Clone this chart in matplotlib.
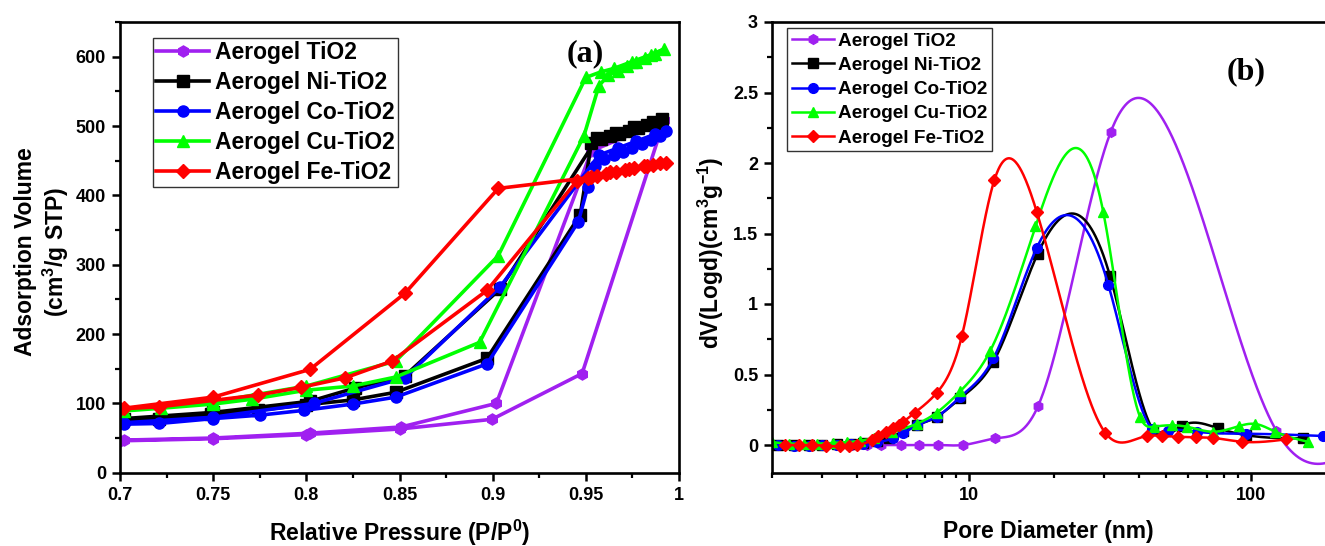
import numpy as np
import matplotlib
matplotlib.use("Agg")
import matplotlib.pyplot as plt
from matplotlib.ticker import MultipleLocator, LogLocator, FuncFormatter, NullFormatter

plt.rcParams['font.family'] = ['Liberation Sans', 'DejaVu Sans']
plt.rcParams['font.weight'] = 'bold'
plt.rcParams['mathtext.fontset'] = 'custom'
plt.rcParams['mathtext.rm'] = 'Liberation Sans:bold'
plt.rcParams['mathtext.it'] = 'Liberation Sans:bold'
plt.rcParams['mathtext.bf'] = 'Liberation Sans:bold'
plt.rcParams['mathtext.default'] = 'rm'

labels = ["Aerogel TiO2", "Aerogel Ni-TiO2", "Aerogel Co-TiO2", "Aerogel Cu-TiO2", "Aerogel Fe-TiO2"]
colors = ['#A020F0', '#000000', '#0000FF', '#00FF00', '#FF0000']
markers = ['h', 's', 'o', '^', 'D']

# ---------------- (a) isotherms ----------------
tio2_p = [0.700, 0.750, 0.800, 0.850, 0.8996, 0.948, 0.992, 0.953, 0.902, 0.851, 0.802, 0.750, 0.702]
tio2_v = [46, 49, 55, 63, 77, 143, 508, 464, 100, 66, 57, 50, 47]

ni_p = [0.700, 0.721, 0.749, 0.774, 0.800, 0.825, 0.848, 0.897, 0.947, 0.953, 0.958, 0.963, 0.968, 0.973,
        0.978, 0.983, 0.988, 0.991, 0.986, 0.976, 0.966, 0.956, 0.904, 0.853, 0.826, 0.802, 0.750, 0.702]
ni_v = [75, 77, 84, 90, 98, 105, 116, 165, 372, 476, 481, 485, 489, 493,
        497, 501, 505, 510, 506, 498, 490, 482, 265, 140, 122, 103, 87, 78]

co_p = [0.702, 0.721, 0.750, 0.775, 0.799, 0.825, 0.848, 0.897, 0.946, 0.951, 0.955, 0.960, 0.965, 0.970,
        0.975, 0.980, 0.985, 0.990, 0.993, 0.987, 0.977, 0.967, 0.957, 0.904, 0.853, 0.804, 0.750, 0.702]
co_v = [70, 71, 78, 83, 90, 99, 109, 157, 362, 412, 443, 452, 458, 463,
        468, 474, 480, 486, 493, 488, 478, 468, 458, 268, 137, 100, 80, 72]

cu_p = [0.702, 0.722, 0.750, 0.771, 0.800, 0.825, 0.848, 0.893, 0.949, 0.957, 0.962, 0.967, 0.972, 0.977,
        0.982, 0.987, 0.992, 0.985, 0.975, 0.965, 0.958, 0.950, 0.903, 0.848, 0.800, 0.750, 0.700]
cu_v = [89, 93, 99, 106, 119, 125, 138, 188, 486, 558, 573, 580, 586, 592,
        598, 604, 611, 603, 593, 583, 578, 570, 313, 161, 125, 102, 90]

fe_p = [0.700, 0.721, 0.774, 0.797, 0.821, 0.846, 0.897, 0.945, 0.951, 0.956, 0.961, 0.966, 0.971, 0.976,
        0.981, 0.986, 0.990, 0.993, 0.983, 0.973, 0.963, 0.953, 0.903, 0.853, 0.802, 0.750, 0.702]
fe_v = [92, 95, 112, 123, 137, 161, 263, 420, 425, 428, 431, 434, 437, 440,
        442, 444, 446, 447, 443, 438, 433, 426, 410, 259, 149, 109, 93]

# ---------------- (b) pore size distribution ----------------
tio2_d = [3.38, 3.83, 4.36, 4.89, 5.72, 6.62, 7.78, 9.52, 12.4, 17.6, 31.8, 123, 260]
tio2_dv = [0, 0, 0, 0, 0, 0, 0, 0, 0.047, 0.28, 2.22, 0.1, 0.04]

ni_d = [2.1, 2.4, 2.7, 3.0, 3.4, 3.8, 4.2, 4.7, 5.2, 5.85, 6.52, 7.68, 9.29, 12.2, 17.5, 31.6, 45.0, 56.7, 76.5, 96.0, 153]
ni_dv = [0.0, 0.0, 0.0, 0.0, 0.005, 0.01, 0.015, 0.03, 0.05, 0.1, 0.14, 0.2, 0.33, 0.59, 1.355, 1.2, 0.106, 0.135, 0.118, 0.07, 0.047]

co_d = [2.1, 2.4, 2.7, 3.0, 3.4, 3.8, 4.2, 4.7, 5.38, 5.85, 6.52, 7.68, 9.29, 12.2, 17.4, 31.2, 44.4, 50.6, 64.2, 96.0, 180]
co_dv = [0.0, -0.005, -0.005, 0.0, 0.0, 0.005, 0.01, 0.02, 0.047, 0.083, 0.14, 0.2, 0.34, 0.615, 1.40, 1.135, 0.117, 0.10, 0.094, 0.08, 0.064]

cu_d = [2.0, 2.3, 2.6, 2.9, 3.3, 3.7, 4.1, 4.6, 5.35, 6.52, 7.68, 9.29, 11.9, 17.2, 29.9, 40.4, 45.3, 52.3, 59.1, 73.5, 91.0, 103, 122, 159]
cu_dv = [0.02, 0.01, 0.01, 0.01, 0.015, 0.02, 0.03, 0.05, 0.09, 0.15, 0.23, 0.38, 0.67, 1.55, 1.655, 0.2, 0.13, 0.14, 0.13, 0.094, 0.135, 0.15, 0.094, 0.023]

fe_d = [2.23, 2.49, 2.77, 3.10, 3.49, 3.75, 4.0, 4.52, 4.77, 5.08, 5.38, 5.62, 5.85, 6.43, 7.68, 9.42, 12.3, 17.4, 30.4, 42.6, 48.5, 55.1, 63.7, 73.5, 92.7, 133]
fe_dv = [0.0, 0.0, 0.0, -0.005, -0.01, -0.005, 0.0, 0.035, 0.064, 0.094, 0.12, 0.14, 0.165, 0.23, 0.37, 0.77, 1.88, 1.65, 0.087, 0.064, 0.064, 0.058, 0.055, 0.05, 0.023, 0.04]


def natural_spline(x, y, xn):
    x = np.asarray(x, float); y = np.asarray(y, float)
    n = len(x)
    h = np.diff(x)
    A = np.zeros((n, n)); b = np.zeros(n)
    A[0, 0] = 1; A[-1, -1] = 1
    for i in range(1, n - 1):
        A[i, i - 1] = h[i - 1]
        A[i, i] = 2 * (h[i - 1] + h[i])
        A[i, i + 1] = h[i]
        b[i] = 3 * ((y[i + 1] - y[i]) / h[i] - (y[i] - y[i - 1]) / h[i - 1])
    c = np.linalg.solve(A, b)
    bb = (y[1:] - y[:-1]) / h - h * (2 * c[:-1] + c[1:]) / 3
    d = (c[1:] - c[:-1]) / (3 * h)
    idx = np.clip(np.searchsorted(x, xn) - 1, 0, n - 2)
    t = xn - x[idx]
    return y[idx] + bb[idx] * t + c[idx] * t ** 2 + d[idx] * t ** 3


W, H = 1325, 546
fig = plt.figure(figsize=(W / 100, H / 100), dpi=100)

# ---- left axes
axL = fig.add_axes([120 / W, (H - 472.7) / H, 559 / W, 450.7 / H])
iso = [(tio2_p, tio2_v), (ni_p, ni_v), (co_p, co_v), (cu_p, cu_v), (fe_p, fe_v)]
for (p, v), c, m, lab in zip(iso, colors, markers, labels):
    axL.plot(p, v, color=c, marker=m, lw=2.6, ms=8 if m != 'D' else 7, mec=c, mfc=c, label=lab)
axL.set_xlim(0.7, 1.0)
axL.set_ylim(0, 650)
axL.xaxis.set_major_locator(MultipleLocator(0.05))
axL.xaxis.set_minor_locator(MultipleLocator(0.025))
axL.yaxis.set_major_locator(MultipleLocator(100))
axL.yaxis.set_minor_locator(MultipleLocator(50))
axL.xaxis.set_major_formatter(FuncFormatter(lambda v, pos: '%g' % round(v, 3)))
axL.set_xlabel('Relative Pressure (P/P$^{0}$)', fontsize=16.5, fontweight='bold')
axL.set_ylabel('Adsorption Volume\n(cm$^{3}$/g STP)', fontsize=16.5, fontweight='bold', linespacing=1.2)
axL.xaxis.set_label_coords(0.5, -0.099)
axL.yaxis.set_label_coords(-0.087, 0.49)
axL.text(0.832, 0.93, '(a)', transform=axL.transAxes, ha='center', va='center',
         fontsize=23, fontweight='bold', family='Liberation Serif')
legL = axL.legend(loc='upper left', bbox_to_anchor=(0.059, 0.9645), borderaxespad=0,
                  frameon=True, fancybox=False, edgecolor='black',
                  handlelength=2.3, handletextpad=0.25, labelspacing=0.3, borderpad=0.15,
                  prop={'weight': 'bold', 'size': 16.5})
legL.get_frame().set_linewidth(1.0)

# ---- right axes
xmax = 10 ** (2 + (1325 - 1251) / 282)
axR = fig.add_axes([772 / W, (H - 473.2) / H, (W - 772) / W, 451.2 / H])
psd = [(tio2_d, tio2_dv), (ni_d, ni_dv), (co_d, co_dv), (cu_d, cu_dv), (fe_d, fe_dv)]
for (d, v), c, m, lab in zip(psd, colors, markers, labels):
    ld = np.log10(d)
    xn = np.linspace(ld[0], ld[-1], 800)
    yn = natural_spline(ld, v, xn)
    ms = 7 if m != 'D' else 6.5
    axR.plot(10 ** xn, yn, color=c, lw=1.8)
    axR.plot(d, v, ls='none', marker=m, ms=ms, color=c, mec=c)
    axR.plot([], [], color=c, lw=1.8, marker=m, ms=ms, label=lab)
axR.set_xscale('log')
axR.set_xlim(2, xmax)
axR.set_ylim(-0.2, 3)
axR.yaxis.set_major_locator(MultipleLocator(0.5))
axR.yaxis.set_minor_locator(MultipleLocator(0.25))
axR.yaxis.set_major_formatter(FuncFormatter(lambda v, pos: '%g' % round(v, 3)))
axR.xaxis.set_major_locator(LogLocator(base=10, numticks=10))
axR.xaxis.set_minor_locator(LogLocator(base=10, subs=np.arange(2, 10), numticks=20))
axR.xaxis.set_major_formatter(FuncFormatter(lambda v, pos: '%d' % round(v)))
axR.xaxis.set_minor_formatter(NullFormatter())
axR.spines['right'].set_visible(False)
axR.set_xlabel('Pore Diameter (nm)', fontsize=16.5, fontweight='bold')
axR.set_ylabel('dV(Logd)(cm$^{3}$g$^{-1}$)', fontsize=16.5, fontweight='bold')
axR.xaxis.set_label_coords(0.5, -0.104)
axR.yaxis.set_label_coords(-0.083, 0.488)
axR.text(0.857, 0.89, '(b)', transform=axR.transAxes, ha='center', va='center',
         fontsize=23, fontweight='bold', family='Liberation Serif')
legR = axR.legend(loc='upper left', bbox_to_anchor=(0.027, 0.987), borderaxespad=0,
                  frameon=True, fancybox=False, edgecolor='black',
                  handlelength=2.2, handletextpad=0.25, labelspacing=0.36, borderpad=0.25,
                  prop={'weight': 'bold', 'size': 13.7})
legR.get_frame().set_linewidth(1.0)

for ax in (axL, axR):
    for s in ax.spines.values():
        s.set_linewidth(1.9)
    ax.tick_params(which='major', direction='out', length=6, width=1.8, labelsize=13, pad=4)
    ax.tick_params(which='minor', direction='out', length=3.5, width=1.6)
    ax.tick_params(top=False, right=False, which='both')
    for lbl in ax.get_xticklabels() + ax.get_yticklabels():
        lbl.set_fontweight('bold')

fig.savefig('out.png', dpi=100)
